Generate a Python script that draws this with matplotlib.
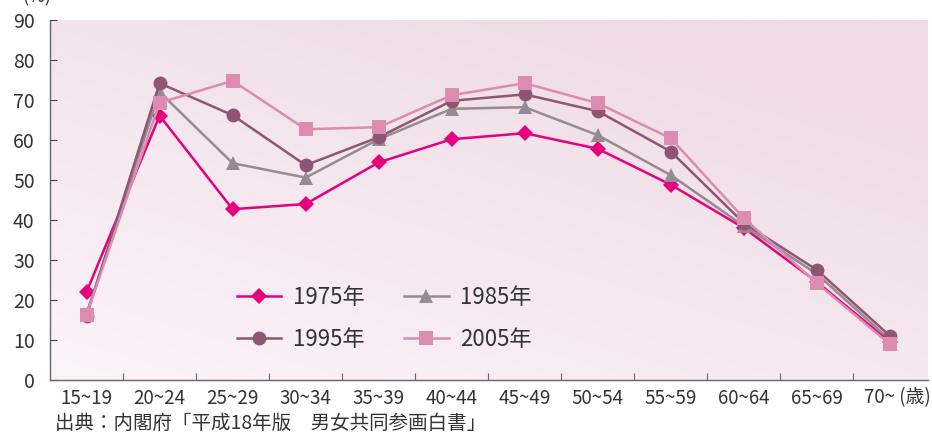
import matplotlib
matplotlib.use("Agg")
import matplotlib.pyplot as plt
import numpy as np

plt.rcParams['font.family'] = ['Noto Sans CJK JP', 'DejaVu Sans']

categories = ["15~19", "20~24", "25~29", "30~34", "35~39", "40~44",
              "45~49", "50~54", "55~59", "60~64", "65~69", "70~"]
y1975 = [22.0, 66.1, 42.7, 44.0, 54.4, 60.2, 61.7, 57.8, 48.8, 38.0, 24.5, 9.5]
y1985 = [16.6, 72.0, 54.2, 50.6, 60.2, 67.8, 68.2, 61.2, 51.2, 38.5, 26.5, 10.0]
y1995 = [16.0, 74.2, 66.2, 53.7, 60.7, 69.8, 71.4, 67.2, 57.1, 39.2, 27.5, 11.0]
y2005 = [16.3, 69.3, 74.8, 62.7, 63.2, 71.2, 74.2, 69.2, 60.4, 40.4, 24.2, 8.9]
yticks = [0, 10, 20, 30, 40, 50, 60, 70, 80, 90]

W, H = 932, 432
fig = plt.figure(figsize=(W / 100, H / 100), dpi=100)
ax = fig.add_axes([50 / W, 1 - 380 / H, 878 / W, 360 / H])

x = np.arange(len(categories))
ax.set_xlim(-0.5, 11.52)
ax.set_ylim(0, 90)

# gradient background
gx = np.linspace(0, 1, 200)
gy = np.linspace(0, 1, 100)
GX, GY = np.meshgrid(gx, gy)
t = np.clip((GX * 0.55 + GY * 0.75) / 1.1, 0, 1)
c0 = np.array([0xfb, 0xf4, 0xf8]) / 255
c1 = np.array([0xef, 0xdc, 0xe5]) / 255
img = c0[None, None, :] * (1 - t[..., None]) + c1[None, None, :] * t[..., None]
ax.imshow(img, extent=[0, 1, 0, 1], transform=ax.transAxes, origin='lower',
          aspect='auto', zorder=0, interpolation='bilinear')

series = [
    ("1975年", y1975, '#e6007e', 'D', 8.5),
    ("1985年", y1985, '#958b93', '^', 9.5),
    ("1995年", y1995, '#8f5674', 'o', 10),
    ("2005年", y2005, '#dc8bb1', 's', 10),
]
handles = []
for label, vals, col, mk, ms in series:
    h, = ax.plot(x, vals, color=col, lw=1.8, marker=mk, markersize=ms,
                 markeredgewidth=0, label=label, zorder=3)
    handles.append(h)

for s in ['top', 'right']:
    ax.spines[s].set_visible(False)
for s in ['left', 'bottom']:
    ax.spines[s].set_color('#666666')
    ax.spines[s].set_linewidth(1.0)

ax.set_yticks(yticks)
ax.tick_params(axis='y', direction='in', length=5, color='#444444',
               labelsize=14, labelcolor='#333333', pad=11)
ax.set_xticks(np.arange(0.5, 11, 1))
ax.set_xticklabels([])
ax.tick_params(axis='x', which='major', direction='in', length=5, color='#666666')
ax.set_xticks(x, minor=True)
ax.set_xticklabels(categories[:-1] + [""], minor=True)
ax.tick_params(axis='x', which='minor', length=0, labelsize=13.5,
               labelcolor='#333333', pad=6)
fig.text(931 / W, 1 - 398 / H, categories[-1] + " (歳)", ha='right', va='center',
         fontsize=13.5, color='#333333')

order = [0, 2, 1, 3]
leg = ax.legend([handles[i] for i in order], [series[i][0] for i in order],
                ncol=2, loc='upper left', bbox_to_anchor=(237 / W, 1 - 286 / H),
                bbox_transform=fig.transFigure, borderaxespad=0, borderpad=0,
                frameon=False, fontsize=16, handlelength=2.0,
                columnspacing=1.8, labelspacing=0.85, handletextpad=0.5)
for txt in leg.get_texts():
    txt.set_color('#333333')

fig.text(22 / W, 1 - 6 / H, "(%)", fontsize=13, color='#333333', ha='left', va='bottom')
fig.text(55 / W, 1 - 423 / H, "出典：内閣府「平成18年版　男女共同参画白書」",
         fontsize=14, color='#333333', ha='left', va='center')

fig.savefig("out.png", dpi=100, facecolor='white')
